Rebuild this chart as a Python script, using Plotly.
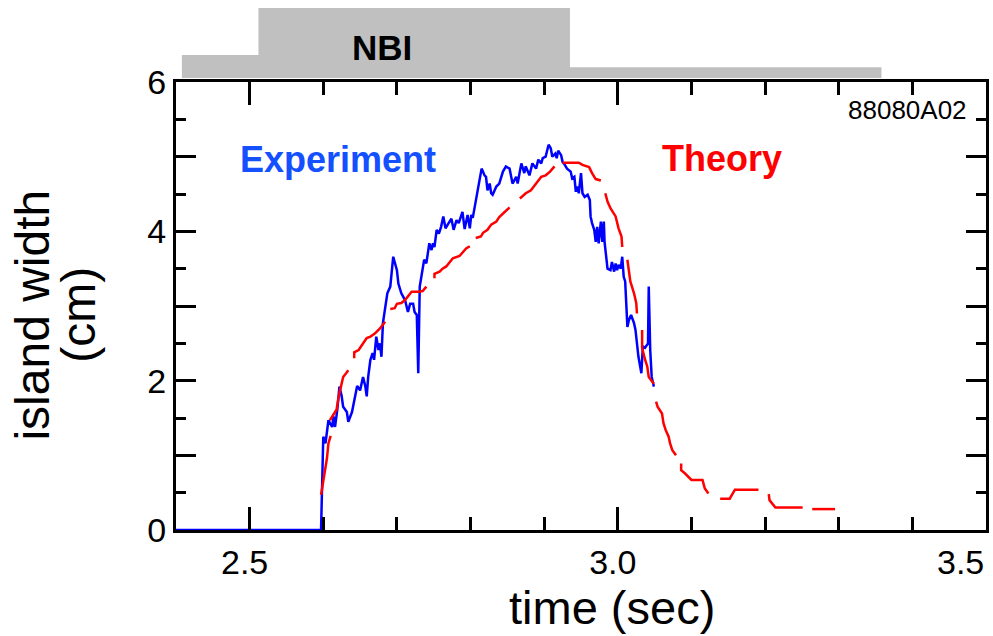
import plotly.graph_objects as go

FONT = "Liberation Sans, Arial, Helvetica, sans-serif"

# ---- data (time in sec, island width in cm) ----
exp_time = [2.400, 2.597, 2.600, 2.603, 2.607, 2.612, 2.614, 2.616, 2.619, 2.622, 2.625, 2.627,
            2.632, 2.634, 2.639, 2.643, 2.646, 2.650, 2.654, 2.657, 2.659, 2.661, 2.664, 2.667,
            2.669, 2.672, 2.675, 2.677, 2.679, 2.681, 2.687, 2.691, 2.695, 2.700, 2.702, 2.706,
            2.711, 2.715, 2.718, 2.722, 2.724, 2.727, 2.729, 2.731, 2.733, 2.737, 2.740, 2.744,
            2.747, 2.749, 2.751, 2.754, 2.757, 2.760, 2.763, 2.766, 2.769, 2.774, 2.777, 2.781,
            2.784, 2.789, 2.792, 2.796, 2.799, 2.801, 2.803, 2.807, 2.809, 2.812, 2.815, 2.819,
            2.821, 2.823, 2.826, 2.828, 2.830, 2.835, 2.839, 2.844, 2.848, 2.853, 2.857, 2.862,
            2.864, 2.869, 2.873, 2.875, 2.880, 2.884, 2.889, 2.892, 2.896, 2.898, 2.902, 2.906,
            2.909, 2.911, 2.915, 2.917, 2.919, 2.923, 2.925, 2.928, 2.931, 2.936, 2.938, 2.941,
            2.943, 2.945, 2.947, 2.950, 2.952, 2.955, 2.959, 2.962, 2.963, 2.965, 2.968, 2.970,
            2.972, 2.974, 2.977, 2.979, 2.981, 2.982, 2.983, 2.986, 2.990, 2.992, 2.995, 2.997,
            2.999, 3.001, 3.004, 3.006, 3.008, 3.010, 3.013, 3.015, 3.018, 3.022, 3.024, 3.026,
            3.028, 3.032, 3.034, 3.037, 3.041, 3.042, 3.044, 3.046, 3.049]
exp_width = [0.0, 0.0, 1.25, 1.16, 1.47, 1.38, 1.52, 1.38, 1.61, 1.92, 1.79, 1.65,
             1.58, 1.45, 1.58, 1.79, 1.93, 1.87, 2.05, 1.93, 1.79, 2.05, 2.28, 2.37,
             2.28, 2.59, 2.41, 2.50, 2.32, 2.77, 3.17, 3.26, 3.66, 3.48, 3.30, 3.17,
             3.08, 2.92, 3.03, 3.03, 2.92, 2.88, 2.10, 3.26, 3.39, 3.62, 3.57, 3.84,
             3.75, 3.84, 3.79, 4.02, 3.97, 4.06, 4.20, 4.04, 4.09, 4.17, 4.02, 4.15,
             4.11, 4.26, 4.03, 4.22, 4.04, 4.22, 4.18, 4.40, 4.51, 4.64, 4.84, 4.75,
             4.73, 4.55, 4.64, 4.51, 4.49, 4.60, 4.64, 4.80, 4.87, 4.84, 4.64, 4.73,
             4.64, 4.91, 4.78, 4.87, 4.75, 4.91, 4.84, 4.96, 4.91, 4.98, 5.00, 5.16,
             5.11, 5.00, 5.04, 4.98, 5.08, 5.02, 4.93, 4.89, 4.84, 4.80, 4.71, 4.73,
             4.53, 4.60, 4.51, 4.78, 4.51, 4.46, 4.49, 4.42, 4.20, 4.11, 4.02, 3.86,
             4.06, 3.84, 4.13, 3.86, 4.13, 3.86, 3.75, 3.50, 3.48, 3.59, 3.46, 3.57,
             3.48, 3.55, 3.50, 3.66, 3.39, 3.33, 2.72, 2.81, 2.88, 2.77, 2.68, 2.46,
             2.32, 2.10, 2.46, 2.44, 2.50, 3.26, 2.41, 2.05, 1.92]

theory_time = [2.597, 2.602, 2.605, 2.607, 2.610, None,
               2.609, 2.614, 2.618, 2.621, 2.623, 2.625, 2.627, 2.631, 2.634, None,
               2.642, 2.642, 2.648, 2.654, 2.659, 2.664, 2.670, 2.677, 2.681, 2.684, None,
               2.691, 2.697, 2.700, 2.706, 2.711, 2.715, 2.720, 2.729, 2.735, 2.740, None,
               2.751, 2.751, 2.758, 2.762, 2.767, 2.772, 2.776, 2.785, 2.790, 2.794, 2.799, None,
               2.807, 2.814, 2.817, 2.823, 2.828, 2.835, 2.839, 2.846, 2.853, None,
               2.867, 2.875, 2.882, 2.889, 2.896, 2.902, 2.908, 2.914, None,
               2.925, 2.947, 2.952, 2.961, 2.965, 2.970, 2.977, None,
               2.983, 2.986, 2.990, 2.997, 3.001, 3.005, 3.006, None,
               3.013, 3.015, 3.017, 3.022, 3.025, 3.026, None,
               3.033, 3.033, 3.037, 3.040, 3.042, 3.049, None,
               3.052, 3.054, 3.060, 3.062, 3.065, 3.069, 3.071, 3.074, 3.079, None,
               3.086, 3.086, 3.091, 3.096, 3.100, 3.115, 3.118, 3.123, None,
               3.139, 3.152, 3.159, 3.191, None,
               3.205, 3.206, 3.214, 3.251, None,
               3.264, 3.295]
theory_width = [0.47, 0.75, 0.96, 1.16, 1.26, None,
                1.47, 1.54, 1.61, 1.79, 1.87, 1.96, 2.05, 2.10, 2.14, None,
                2.30, 2.38, 2.41, 2.50, 2.57, 2.59, 2.63, 2.70, 2.75, 2.79, None,
                2.96, 2.97, 3.03, 3.04, 3.08, 3.13, 3.19, 3.19, 3.20, 3.26, None,
                3.37, 3.43, 3.46, 3.50, 3.53, 3.59, 3.64, 3.67, 3.73, 3.77, 3.80, None,
                3.91, 3.93, 3.98, 4.02, 4.09, 4.13, 4.19, 4.25, 4.32, None,
                4.44, 4.51, 4.55, 4.64, 4.73, 4.75, 4.80, 4.87, None,
                4.92, 4.92, 4.89, 4.86, 4.78, 4.70, 4.68, None,
                4.51, 4.40, 4.31, 4.20, 4.04, 3.93, 3.79, None,
                3.62, 3.44, 3.33, 3.17, 3.04, 2.90, None,
                2.68, 2.44, 2.28, 2.19, 2.05, 1.96, None,
                1.72, 1.65, 1.56, 1.43, 1.34, 1.25, 1.16, 1.07, 1.00, None,
                0.89, 0.80, 0.76, 0.71, 0.67, 0.67, 0.56, 0.49, None,
                0.42, 0.42, 0.54, 0.54, None,
                0.48, 0.40, 0.30, 0.30, None,
                0.28, 0.28]

# NBI power waveform (step edges in sec, relative bar heights above the frame)
nbi_edges = [2.408, 2.512, 2.935, 3.358]
nbi_levels = [0.051, 0.156, 0.024]

x_major = [2.5, 3.0]
x_major_text = ["2.5", "3.0"]
y_major = [0, 1, 2, 3, 4, 5, 6]
y_major_text = ["0", "", "2", "", "4", "", "6"]

fig = go.Figure()
fig.add_trace(go.Scatter(x=exp_time, y=exp_width, mode="lines",
                         line=dict(color="#0000ff", width=2.5), cliponaxis=False,
                         showlegend=False, name="Experiment"))
fig.add_trace(go.Scatter(x=theory_time, y=theory_width, mode="lines",
                         line=dict(color="#ff0000", width=2.5), connectgaps=False,
                         showlegend=False, name="Theory"))

# NBI gray step bar above the frame
base = 1.009
path = f"M {nbi_edges[0]},{base}"
for i in range(3):
    top = base + nbi_levels[i]
    path += f" L {nbi_edges[i]},{top} L {nbi_edges[i+1]},{top}"
path += f" L {nbi_edges[3]},{base} Z"
fig.add_shape(type="path", path=path, xref="x", yref="paper",
              fillcolor="#c0c0c0", line=dict(width=0), layer="above")


def txt(text, x, y, size, color="black", xanchor="center", yanchor="middle", angle=0):
    return dict(text=text, x=x, y=y, xref="paper", yref="paper",
                xanchor=xanchor, yanchor=yanchor, textangle=angle,
                font=dict(size=size, color=color, family=FONT), showarrow=False)


ann = [
    txt("<b>NBI</b>", 0.254, 1.078, 35),
    txt("<b>Experiment</b>", 0.200, 0.826, 36, color="#1450ff"),
    txt("<b>Theory</b>", 0.674, 0.830, 36, color="#ff0000"),
    txt("88080A02", 0.979, 0.9375, 26, xanchor="right"),
    txt("3.5", 1.0, -0.0714, 34, xanchor="right"),
    txt("time (sec)", 0.538, -0.174, 47),
    txt("island width", -0.177, 0.48, 48, angle=-90),
    txt("(cm)", -0.120, 0.48, 48, angle=-90),
]

fig.update_layout(
    width=993, height=636,
    margin=dict(l=176, r=4, t=82, b=106),
    paper_bgcolor="white", plot_bgcolor="white",
    font=dict(family=FONT, color="black"),
    annotations=ann,
    xaxis=dict(range=[2.4, 3.5], showgrid=False, zeroline=False,
               showline=True, linecolor="black", linewidth=3, mirror="ticks",
               ticks="inside", ticklen=23, tickwidth=2.5, tickcolor="black",
               tickvals=x_major + [3.5], ticktext=x_major_text + [""],
               ticklabelshift=-5,
               tickfont=dict(size=34, family=FONT),
               minor=dict(dtick=0.1, tick0=2.4, ticks="inside", ticklen=13,
                          tickwidth=2.5, tickcolor="black")),
    yaxis=dict(range=[0, 6], showgrid=False, zeroline=False,
               showline=True, linecolor="black", linewidth=3, mirror="ticks",
               ticks="inside", ticklen=20, tickwidth=2.5, tickcolor="black",
               tickvals=y_major, ticktext=y_major_text,
               tickfont=dict(size=34, family=FONT),
               minor=dict(dtick=0.5, tick0=0, ticks="inside", ticklen=10,
                          tickwidth=2.5, tickcolor="black")),
)

fig.write_html("out.html")
